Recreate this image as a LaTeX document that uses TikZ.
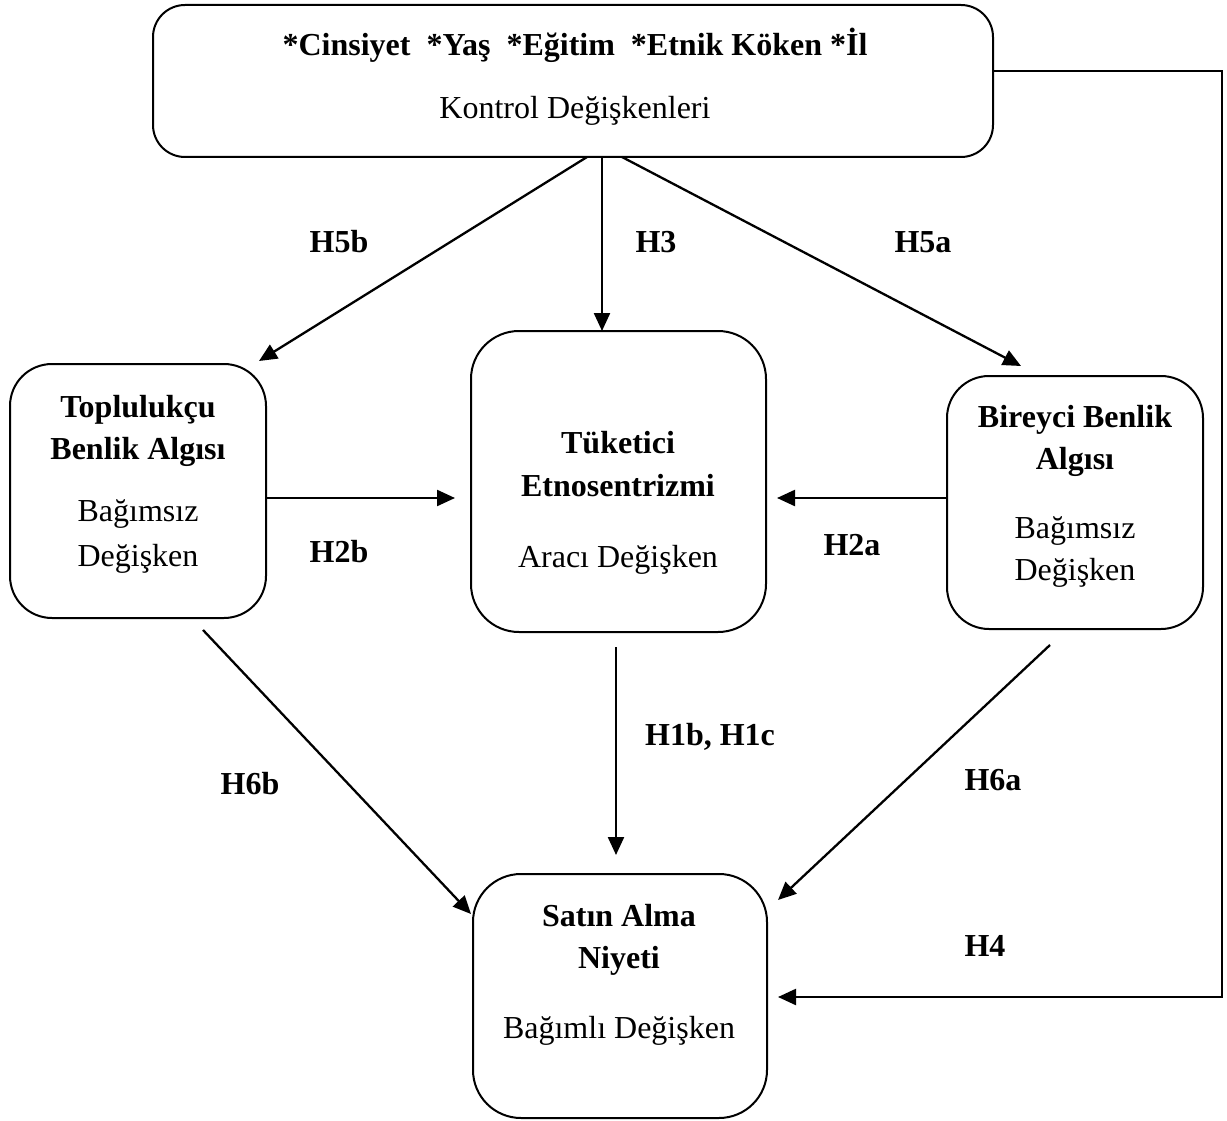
\documentclass[tikz,border=0pt]{standalone}
\usepackage{fontspec}
\setmainfont{Liberation Serif}
\usetikzlibrary{arrows.meta}
\begin{document}
\begin{tikzpicture}[x=1pt,y=-1pt,
  box/.style={draw, line width=2pt, inner sep=0pt, outer sep=0pt},
  link/.style={line width=2.3pt, -{Triangle[length=18pt,width=16pt]}},
  boldtxt/.style={font=\fontsize{32}{40}\selectfont\bfseries, anchor=base, inner sep=0pt},
  plaintxt/.style={font=\fontsize{32}{40}\selectfont, anchor=base, inner sep=0pt},
  hyp/.style={boldtxt}]
\useasboundingbox (0,0) rectangle (1227,1121);

% boxes
\node[box, rounded corners=32pt, minimum width=840pt, minimum height=152pt] (ctrl) at (573,81) {};
\node[box, rounded corners=42pt, minimum width=256pt, minimum height=254pt] (coll) at (138,491) {};
\node[box, rounded corners=48pt, minimum width=295pt, minimum height=301pt] (etno) at (618.5,481.5) {};
\node[box, rounded corners=42pt, minimum width=256pt, minimum height=253pt] (indiv) at (1075,502.5) {};
\node[box, rounded corners=48pt, minimum width=294pt, minimum height=244pt] (buy) at (620,996) {};

% box texts
\node[boldtxt] (ctrl1) at (575,56) {*Cinsiyet\ \ *Yaş\ \ *Eğitim\ \ *Etnik Köken *İl};
\node[plaintxt] (ctrl2) at (575,119) {Kontrol Değişkenleri};

\node[boldtxt] (coll1) at (138,417) {Toplulukçu};
\node[boldtxt] (coll2) at (138,459) {Benlik Algısı};
\node[plaintxt] (coll3) at (138,521) {Bağımsız};
\node[plaintxt] (coll4) at (138,566) {Değişken};

\node[boldtxt] (etno1) at (618,453) {Tüketici};
\node[boldtxt] (etno2) at (618,496) {Etnosentrizmi};
\node[plaintxt] (etno3) at (618,567) {Aracı Değişken};

\node[boldtxt] (indiv1) at (1075,427) {Bireyci Benlik};
\node[boldtxt] (indiv2) at (1075,469) {Algısı};
\node[plaintxt] (indiv3) at (1075,538) {Bağımsız};
\node[plaintxt] (indiv4) at (1075,580) {Değişken};

\node[boldtxt] (buy1) at (619,926) {Satın Alma};
\node[boldtxt] (buy2) at (619,968) {Niyeti};
\node[plaintxt] (buy3) at (619,1038) {Bağımlı Değişken};

% connector ends
\coordinate (s5b) at (587,157);  \coordinate (e5b) at (259,361);
\coordinate (s3)  at (602,157);  \coordinate (e3)  at (602,331);
\coordinate (s5a) at (622,157);  \coordinate (e5a) at (1021,366);
\coordinate (s2b) at (266,498);  \coordinate (e2b) at (455,498);
\coordinate (s2a) at (946,498);  \coordinate (e2a) at (777,498);
\coordinate (s1)  at (616,647);  \coordinate (e1)  at (616,855);
\coordinate (s6b) at (203,630);  \coordinate (e6b) at (471,914);
\coordinate (s6a) at (1050,645); \coordinate (e6a) at (778,900);
\coordinate (s4)  at (993,71);   \coordinate (k4a) at (1222,71);
\coordinate (k4b) at (1222,997); \coordinate (e4)  at (778,997);

% connectors
\draw[link] (s5b) -- (e5b);
\draw[link] (s3) -- (e3);
\draw[link] (s5a) -- (e5a);
\draw[link] (s2b) -- (e2b);
\draw[link] (s2a) -- (e2a);
\draw[link] (s1) -- (e1);
\draw[link] (s6b) -- (e6b);
\draw[link] (s6a) -- (e6a);
\draw[link] (s4) -- (k4a) -- (k4b) -- (e4);

% hypothesis labels
\node[hyp] (h5b) at (339,252) {H5b};
\node[hyp] (h3)  at (656,252) {H3};
\node[hyp] (h5a) at (923,252) {H5a};
\node[hyp] (h2b) at (339,562) {H2b};
\node[hyp] (h2a) at (852,555) {H2a};
\node[hyp] (h1)  at (710,745) {H1b, H1c};
\node[hyp] (h6b) at (250,794) {H6b};
\node[hyp] (h6a) at (993,790) {H6a};
\node[hyp] (h4)  at (985,956) {H4};
\end{tikzpicture}
\end{document}
